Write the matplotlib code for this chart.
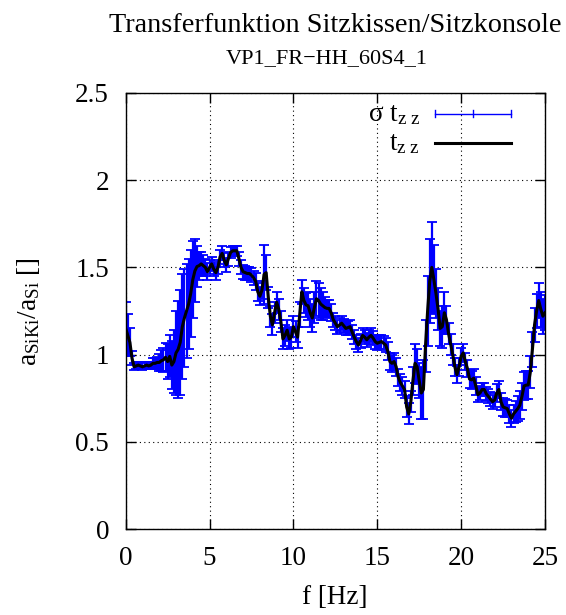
import numpy as np
import matplotlib
matplotlib.use("Agg")
import matplotlib.pyplot as plt

plt.rcParams['font.family'] = ['Liberation Serif', 'DejaVu Serif']
plt.rcParams['mathtext.fontset'] = 'custom'
plt.rcParams['mathtext.rm'] = 'Liberation Serif'
plt.rcParams['mathtext.it'] = 'Liberation Serif:italic'

# frequency grid [Hz], 0.125 Hz resolution
freq = np.arange(201) * 0.125

# transfer function magnitude t_zz
t_zz = [
    1.15, 1.11, 1.07, 0.98, 0.93, 0.935, 0.94, 0.935,
    0.93, 0.935, 0.94, 0.935, 0.94, 0.95, 0.95, 0.955,
    0.955, 0.965, 0.97, 0.985, 0.96, 0.99, 0.94, 0.96,
    1.01, 1.03, 1.07, 1.16, 1.21, 1.25, 1.29, 1.35,
    1.43, 1.48, 1.505, 1.51, 1.52, 1.51, 1.50, 1.475,
    1.50, 1.52, 1.49, 1.47, 1.50, 1.56, 1.58, 1.54,
    1.515, 1.55, 1.585, 1.595, 1.595, 1.595, 1.55, 1.50,
    1.475, 1.47, 1.465, 1.465, 1.455, 1.44, 1.42, 1.36,
    1.335, 1.37, 1.46, 1.47, 1.33, 1.22, 1.17, 1.24,
    1.30, 1.26, 1.19, 1.09, 1.11, 1.14, 1.09, 1.10,
    1.16, 1.13, 1.10, 1.23, 1.36, 1.31, 1.285, 1.28,
    1.24, 1.21, 1.27, 1.32, 1.31, 1.29, 1.28, 1.27,
    1.265, 1.265, 1.24, 1.20, 1.18, 1.16, 1.17, 1.18,
    1.165, 1.15, 1.155, 1.16, 1.13, 1.10, 1.075, 1.055,
    1.08, 1.11, 1.10, 1.085, 1.10, 1.11, 1.095, 1.075,
    1.065, 1.07, 1.075, 1.065, 1.055, 1.02, 0.96, 0.95,
    0.96, 0.93, 0.87, 0.84, 0.82, 0.80, 0.70, 0.66,
    0.73, 0.85, 0.95, 0.93, 0.85, 0.78, 0.80, 1.05,
    1.25, 1.42, 1.50, 1.43, 1.35, 1.26, 1.15, 1.16,
    1.24, 1.20, 1.12, 1.06, 1.00, 0.93, 0.885, 0.93,
    0.99, 1.01, 0.96, 0.92, 0.86, 0.855, 0.865, 0.82,
    0.77, 0.78, 0.80, 0.80, 0.775, 0.76, 0.745, 0.73,
    0.74, 0.78, 0.80, 0.73, 0.70, 0.695, 0.69, 0.66,
    0.635, 0.66, 0.675, 0.69, 0.71, 0.76, 0.82, 0.825,
    0.826, 0.90, 1.03, 1.17, 1.25, 1.31, 1.26, 1.22,
    1.24,
]

# standard deviation of t_zz
sigma_t_zz = [
    0.15, 0.12, 0.08, 0.04, 0.02, 0.02, 0.02, 0.02,
    0.02, 0.02, 0.02, 0.02, 0.02, 0.03, 0.03, 0.03,
    0.05, 0.06, 0.07, 0.08, 0.10, 0.12, 0.14, 0.18,
    0.24, 0.28, 0.30, 0.30, 0.28, 0.27, 0.26, 0.25,
    0.22, 0.18, 0.12, 0.08, 0.07, 0.06, 0.05, 0.05,
    0.04, 0.04, 0.04, 0.04, 0.04, 0.04, 0.04, 0.04,
    0.04, 0.04, 0.03, 0.03, 0.03, 0.03, 0.04, 0.04,
    0.04, 0.04, 0.04, 0.04, 0.04, 0.04, 0.05, 0.05,
    0.05, 0.05, 0.17, 0.10, 0.06, 0.06, 0.06, 0.06,
    0.06, 0.06, 0.06, 0.06, 0.06, 0.06, 0.06, 0.06,
    0.06, 0.06, 0.06, 0.07, 0.07, 0.07, 0.07, 0.08,
    0.08, 0.08, 0.09, 0.10, 0.10, 0.09, 0.08, 0.06,
    0.05, 0.05, 0.05, 0.04, 0.04, 0.04, 0.04, 0.04,
    0.04, 0.04, 0.04, 0.04, 0.04, 0.04, 0.04, 0.04,
    0.04, 0.04, 0.04, 0.04, 0.04, 0.04, 0.04, 0.04,
    0.04, 0.04, 0.04, 0.04, 0.04, 0.05, 0.05, 0.05,
    0.05, 0.05, 0.05, 0.05, 0.05, 0.05, 0.06, 0.06,
    0.06, 0.08, 0.11, 0.10, 0.10, 0.15, 0.17, 0.15,
    0.20, 0.24, 0.26, 0.20, 0.14, 0.12, 0.10, 0.12,
    0.12, 0.08, 0.06, 0.06, 0.06, 0.05, 0.05, 0.05,
    0.05, 0.05, 0.05, 0.05, 0.05, 0.05, 0.05, 0.05,
    0.04, 0.04, 0.04, 0.04, 0.04, 0.04, 0.04, 0.04,
    0.04, 0.05, 0.05, 0.05, 0.05, 0.05, 0.05, 0.05,
    0.05, 0.05, 0.06, 0.07, 0.08, 0.08, 0.08, 0.08,
    0.08, 0.09, 0.10, 0.10, 0.10, 0.10, 0.10, 0.10,
    0.10,
]

x_ticks = [0, 5, 10, 15, 20, 25]
y_ticks = [0, 0.5, 1, 1.5, 2, 2.5]
y_tick_labels = ['0', '0.5', '1', '1.5', '2', '2.5']

fig = plt.figure(figsize=(5.66, 6.15), dpi=100)
ax = fig.add_axes([0.2221, 0.1398, 0.7408, 0.709])

ax.errorbar(freq, t_zz, yerr=sigma_t_zz, fmt='none', ecolor='#0000ff',
            elinewidth=1.6, capsize=3.4, capthick=1.3, zorder=2)
ax.plot(freq, t_zz, color='black', lw=2.2, zorder=3)

ax.set_xlim(0, 25)
ax.set_ylim(0, 2.5)
ax.set_xticks(x_ticks)
ax.set_xticklabels([str(t) for t in x_ticks])
ax.set_yticks(y_ticks)
ax.set_yticklabels(y_tick_labels)
ax.tick_params(direction='in', top=True, right=True, length=7, width=1,
               pad=12, labelsize=19.5)
ax.set_axisbelow(True)
ax.grid(True, color='black', linestyle=(0, (1, 3)), linewidth=0.8)
for sp in ax.spines.values():
    sp.set_linewidth(1.0)

# key in the upper right
tr = ax.transAxes
ax.text(0.702, 0.950, 'σ t$_{\\mathrm{z\\ z}}$', transform=tr, ha='right',
        va='center', fontsize=19.5)
ax.text(0.702, 0.885, 't$_{\\mathrm{z\\ z}}$', transform=tr, ha='right',
        va='center', fontsize=19.5)
ky = 0.952
ax.plot([0.738, 0.919], [ky, ky], transform=tr, color='#0000ff', lw=1.0,
        clip_on=False)
for kx in (0.738, 0.8285, 0.919):
    ax.plot([kx, kx], [ky - 0.008, ky + 0.008], transform=tr,
            color='#0000ff', lw=1.0, clip_on=False)
ax.plot([0.738, 0.919], [0.885, 0.885], transform=tr, color='black', lw=2.2,
        clip_on=False)

fig.text(0.592, 1 - 32 / 615, 'Transferfunktion Sitzkissen/Sitzkonsole',
         ha='center', va='baseline', fontsize=20.3)
fig.text(0.578, 1 - 63 / 615, 'VP1_FR\u2212HH_60S4_1',
         ha='center', va='baseline', fontsize=16)
fig.text(0.592, 1 - 604 / 615, 'f [Hz]', ha='center', va='baseline',
         fontsize=19.5)
fig.text(0.050, 0.494, '$\\mathrm{a_{SiKi}/a_{Si}}$ []', rotation=90,
         ha='center', va='center', fontsize=19.5)

fig.savefig('out.png', dpi=100)
